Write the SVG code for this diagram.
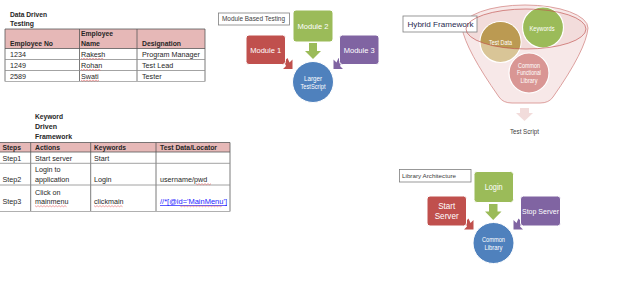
<svg xmlns="http://www.w3.org/2000/svg" width="640" height="285" viewBox="0 0 640 285">
<style>
text{font-family:"Liberation Sans",Arial,sans-serif;}
.t{font-size:7.2px;fill:#262626;}
.h{font-size:7px;font-weight:bold;fill:#262626;}
.hd{fill:#e6b8b7;}
.gl{stroke:#8c8c8c;stroke-width:0.8;fill:none;}
.dl{stroke:#595959;stroke-width:0.8;fill:none;}
.sq{stroke:#e06060;stroke-width:0.6;fill:none;}
.w{fill:#ffffff;text-anchor:middle;}
.lbl{fill:#ffffff;stroke:#7f7f7f;stroke-width:0.8;}
.red{fill:#c0504d;stroke:#ffffff;stroke-width:1;}
.grn{fill:#9bbb59;stroke:#ffffff;stroke-width:1;}
.pur{fill:#8064a2;stroke:#ffffff;stroke-width:1;}
.blu{fill:#4f81bd;stroke:#ffffff;stroke-width:1;}
</style>
<defs>
<clipPath id="ellclip"><ellipse cx="526" cy="29" rx="60" ry="20"/></clipPath>
</defs>

<!-- Data Driven Testing table -->
<g id="data-driven-table">
<text class="h" x="10" y="16.5" textLength="37" lengthAdjust="spacingAndGlyphs">Data Driven</text>
<text class="h" x="10" y="26" textLength="24" lengthAdjust="spacingAndGlyphs">Testing</text>
<rect class="hd" x="5" y="29" width="200" height="19.5"/>
<path class="dl" d="M5 29 H205 M5 48.5 H205 M5 29 V81.5 M79.5 29 V81.5 M137 29 V81.5 M205 29 V81.5"/>
<path class="gl" d="M5 59.5 H205 M5 70.5 H205"/>
<path d="M5 81.5 H205" stroke="#b0b0b0" stroke-width="1.2"/>
<text class="h" x="10" y="45.5" textLength="43" lengthAdjust="spacingAndGlyphs">Employee No</text>
<text class="h" x="81" y="36" textLength="32" lengthAdjust="spacingAndGlyphs">Employee</text>
<text class="h" x="81" y="45.5" textLength="19" lengthAdjust="spacingAndGlyphs">Name</text>
<text class="h" x="142" y="45.5" textLength="39" lengthAdjust="spacingAndGlyphs">Designation</text>
<text class="t" x="10" y="56.5">1234</text>
<text class="t" x="81" y="56.5">Rakesh</text>
<text class="t" x="142" y="56.5">Program Manager</text>
<text class="t" x="10" y="67.5">1249</text>
<text class="t" x="81" y="67.5">Rohan</text>
<text class="t" x="142" y="67.5">Test Lead</text>
<text class="t" x="10" y="78.5">2589</text>
<text class="t" x="81" y="78.5">Swati</text>
<text class="t" x="142" y="78.5">Tester</text>
<path class="sq" d="M81 58.3 l1.5 1 l1.5 -1 l1.5 1 l1.5 -1 l1.5 1 l1.5 -1 l1.5 1 l1.5 -1 l1.5 1 l1.5 -1 l1.5 1 l1.5 -1 l1.5 1 l1.5 -1 l1.5 1"/>
<path class="sq" d="M81 69.3 l1.5 1 l1.5 -1 l1.5 1 l1.5 -1 l1.5 1 l1.5 -1 l1.5 1 l1.5 -1 l1.5 1 l1.5 -1 l1.5 1 l1.5 -1 l1.5 1"/>
<path class="sq" d="M81 80.1 l1.5 1 l1.5 -1 l1.5 1 l1.5 -1 l1.5 1 l1.5 -1 l1.5 1 l1.5 -1 l1.5 1 l1.5 -1 l1.5 1 l1.5 -1"/>
</g>

<!-- Keyword Driven Framework table -->
<g id="keyword-driven-table">
<text class="h" x="35" y="119" textLength="28" lengthAdjust="spacingAndGlyphs">Keyword</text>
<text class="h" x="35" y="129" textLength="22" lengthAdjust="spacingAndGlyphs">Driven</text>
<text class="h" x="35" y="138.5" textLength="37" lengthAdjust="spacingAndGlyphs">Framework</text>
<rect class="hd" x="0" y="142.5" width="230" height="9.5"/>
<path class="dl" d="M0 142.5 H230 M0 152 H230 M30.7 142.5 V211.5 M90.7 142.5 V211.5 M156 142.5 V211.5 M230 142.5 V211.5"/>
<path class="gl" d="M0 163.3 H230 M0 185 H230"/>
<path d="M0 211.5 H230" stroke="#b0b0b0" stroke-width="1.2"/>
<text class="h" x="2.5" y="149.5" textLength="18.5" lengthAdjust="spacingAndGlyphs">Steps</text>
<text class="h" x="35" y="149.5" textLength="25" lengthAdjust="spacingAndGlyphs">Actions</text>
<text class="h" x="94" y="149.5" textLength="32" lengthAdjust="spacingAndGlyphs">Keywords</text>
<text class="h" x="160" y="149.5" textLength="57" lengthAdjust="spacingAndGlyphs">Test Data/Locator</text>
<text class="t" x="2.5" y="160.5">Step1</text>
<text class="t" x="35" y="160.5">Start server</text>
<text class="t" x="94" y="160.5">Start</text>
<text class="t" x="35" y="172">Login to</text>
<text class="t" x="2.5" y="182">Step2</text>
<text class="t" x="35" y="182">application</text>
<text class="t" x="94" y="182">Login</text>
<text class="t" x="160" y="182">username/pwd</text>
<text class="t" x="35" y="194.5">Click on</text>
<text class="t" x="2.5" y="204">Step3</text>
<text class="t" x="35" y="204">mainmenu</text>
<text class="t" x="94" y="204">clickmain</text>
<text x="160" y="204" font-size="7" fill="#1a1aff" text-decoration="underline" textLength="67" lengthAdjust="spacingAndGlyphs">//*[@id='MainMenu']</text>
<path class="sq" d="M196 183.7 l1.5 1 l1.5 -1 l1.5 1 l1.5 -1 l1.5 1 l1.5 -1 l1.5 1 l1.5 -1 l1.5 1 l1.5 -1"/>
<path class="sq" d="M35 205.7 l1.5 1 l1.5 -1 l1.5 1 l1.5 -1 l1.5 1 l1.5 -1 l1.5 1 l1.5 -1 l1.5 1 l1.5 -1 l1.5 1 l1.5 -1 l1.5 1 l1.5 -1 l1.5 1 l1.5 -1 l1.5 1 l1.5 -1 l1.5 1 l1.5 -1 l1.5 1"/>
<path class="sq" d="M94 205.7 l1.5 1 l1.5 -1 l1.5 1 l1.5 -1 l1.5 1 l1.5 -1 l1.5 1 l1.5 -1 l1.5 1 l1.5 -1 l1.5 1 l1.5 -1 l1.5 1 l1.5 -1 l1.5 1 l1.5 -1 l1.5 1 l1.5 -1 l1.5 1"/>
<path class="sq" d="M180 205.7 l1.5 1 l1.5 -1 l1.5 1 l1.5 -1 l1.5 1 l1.5 -1 l1.5 1 l1.5 -1 l1.5 1 l1.5 -1 l1.5 1 l1.5 -1 l1.5 1 l1.5 -1 l1.5 1 l1.5 -1 l1.5 1 l1.5 -1 l1.5 1 l1.5 -1 l1.5 1 l1.5 -1 l1.5 1 l1.5 -1 l1.5 1 l1.5 -1 l1.5 1 l1.5 -1"/>
</g>

<!-- Module Based Testing -->
<g id="module-label">
<rect class="lbl" x="218.5" y="13" width="71" height="12"/>
<text x="222" y="21.3" font-size="6.3" fill="#404040" textLength="63" lengthAdjust="spacingAndGlyphs">Module Based Testing</text>
</g>
<g id="module-connectors">
<path d="M309 43 H317 V51 H321 L313 59 L305 51 H309 Z" fill="#9bbb59"/>
<path d="M284 61.5 L287.5 58 L289.5 62.5 L292.5 59.5 L292.5 69 L283 69 L286 66 Z" fill="#c0504d"/>
<path d="M342 61.5 L338.5 58 L336.5 62.5 L333.5 59.5 L333.5 69 L343 69 L340 66 Z" fill="#8064a2"/>
</g>
<g id="module-2">
<rect class="grn" x="293" y="10" width="40" height="32" rx="3"/>
<text class="w" x="313" y="28.5" font-size="7.8" textLength="31" lengthAdjust="spacingAndGlyphs">Module 2</text>
</g>
<g id="module-1">
<rect class="red" x="246" y="35" width="39.5" height="29.5" rx="3"/>
<text class="w" x="265.7" y="52.5" font-size="7.8" textLength="31" lengthAdjust="spacingAndGlyphs">Module 1</text>
</g>
<g id="module-3">
<rect class="pur" x="339.5" y="35" width="39.5" height="29.5" rx="3"/>
<text class="w" x="359.2" y="52.5" font-size="7.8" textLength="31" lengthAdjust="spacingAndGlyphs">Module 3</text>
</g>
<g id="larger-testscript">
<circle class="blu" cx="313" cy="82" r="20.5"/>
<text class="w" x="313" y="81" font-size="6.5" textLength="18" lengthAdjust="spacingAndGlyphs">Larger</text>
<text class="w" x="313" y="89" font-size="6.5" textLength="25" lengthAdjust="spacingAndGlyphs">TestScript</text>
</g>

<!-- Hybrid Framework -->
<g id="hybrid-funnel">
<path d="M462 28 A63 23 0 0 1 588 28 Q586 50 553 97 Q549 103 540 103 L512 103 Q503 103 499 97 Q466 50 462 28 Z" fill="#f7e8e8" stroke="#d99694" stroke-width="0.9"/>
<ellipse cx="526" cy="29" rx="60" ry="20" fill="#f2dcdb"/>
</g>
<g id="hybrid-label">
<rect class="lbl" x="403" y="16" width="74" height="16"/>
<text x="407.5" y="26.5" font-size="7.8" fill="#1f2a50" textLength="66" lengthAdjust="spacingAndGlyphs">Hybrid Framework</text>
</g>
<g id="test-data">
<circle cx="500.5" cy="42" r="20.5" fill="#d9c597" stroke="#ffffff" stroke-width="1.2"/>
<circle cx="500.5" cy="42" r="20" fill="#bb9a52" clip-path="url(#ellclip)"/>
<text class="w" x="500.5" y="44.5" font-size="6.5" textLength="23" lengthAdjust="spacingAndGlyphs">Test Data</text>
</g>
<g id="keywords">
<circle cx="543" cy="27.5" r="20.5" fill="#9bbb59" stroke="#ffffff" stroke-width="1.2"/>
<text class="w" x="542" y="31" font-size="6.5" textLength="25" lengthAdjust="spacingAndGlyphs">Keywords</text>
</g>
<g id="common-functional-library">
<circle cx="529" cy="73" r="20" fill="#d99694" stroke="#ffffff" stroke-width="1.2"/>
<text class="w" x="529" y="67.5" font-size="6.3" textLength="22" lengthAdjust="spacingAndGlyphs">Common</text>
<text class="w" x="529" y="75" font-size="6.3" textLength="24" lengthAdjust="spacingAndGlyphs">Functional</text>
<text class="w" x="529" y="82.5" font-size="6.3" textLength="17" lengthAdjust="spacingAndGlyphs">Library</text>
</g>
<ellipse cx="526" cy="29" rx="60" ry="20" fill="none" stroke="#c0504d" stroke-width="0.8" opacity="0.8"/>
<g id="hybrid-connectors">
<path d="M520 108 H529 V113 H533 L524.5 121 L516 113 H520 Z" fill="#f2dcdb"/>
</g>
<g id="test-script">
<text x="524.5" y="134" font-size="6.8" fill="#404040" text-anchor="middle" textLength="29" lengthAdjust="spacingAndGlyphs">Test Script</text>
</g>

<!-- Library Architecture -->
<g id="library-label">
<rect class="lbl" x="399.5" y="169.5" width="71.5" height="12.5"/>
<text x="402" y="178" font-size="6.2" fill="#404040" textLength="54" lengthAdjust="spacingAndGlyphs">Library Architecture</text>
</g>
<g id="library-connectors">
<path d="M489 204 H497.5 V211.5 H501.5 L493.2 220 L485 211.5 H489 Z" fill="#9bbb59"/>
<path d="M465 222 L468.5 218.5 L470.5 223 L473.5 220 L473.5 229.5 L464 229.5 L467 226.5 Z" fill="#c0504d"/>
<path d="M522 222 L518.5 218.5 L516.5 223 L513.5 220 L513.5 229.5 L523 229.5 L520 226.5 Z" fill="#8064a2"/>
</g>
<g id="login">
<rect class="grn" x="474" y="171.5" width="39.5" height="31" rx="3"/>
<text class="w" x="493.7" y="189.5" font-size="8.3" textLength="18" lengthAdjust="spacingAndGlyphs">Login</text>
</g>
<g id="start-server">
<rect class="red" x="427" y="196" width="39.5" height="30" rx="3"/>
<text class="w" x="446.7" y="209" font-size="8.3" textLength="17" lengthAdjust="spacingAndGlyphs">Start</text>
<text class="w" x="446.7" y="218.5" font-size="8.3" textLength="24" lengthAdjust="spacingAndGlyphs">Server</text>
</g>
<g id="stop-server">
<rect class="pur" x="520.5" y="196" width="40" height="30" rx="3"/>
<text class="w" x="540.5" y="214" font-size="8" textLength="37" lengthAdjust="spacingAndGlyphs">Stop Server</text>
</g>
<g id="common-library">
<circle class="blu" cx="493.5" cy="243" r="20.5"/>
<text class="w" x="493.5" y="241.5" font-size="6.8" textLength="23" lengthAdjust="spacingAndGlyphs">Common</text>
<text class="w" x="493.5" y="250" font-size="6.8" textLength="18" lengthAdjust="spacingAndGlyphs">Library</text>
</g>
</svg>
